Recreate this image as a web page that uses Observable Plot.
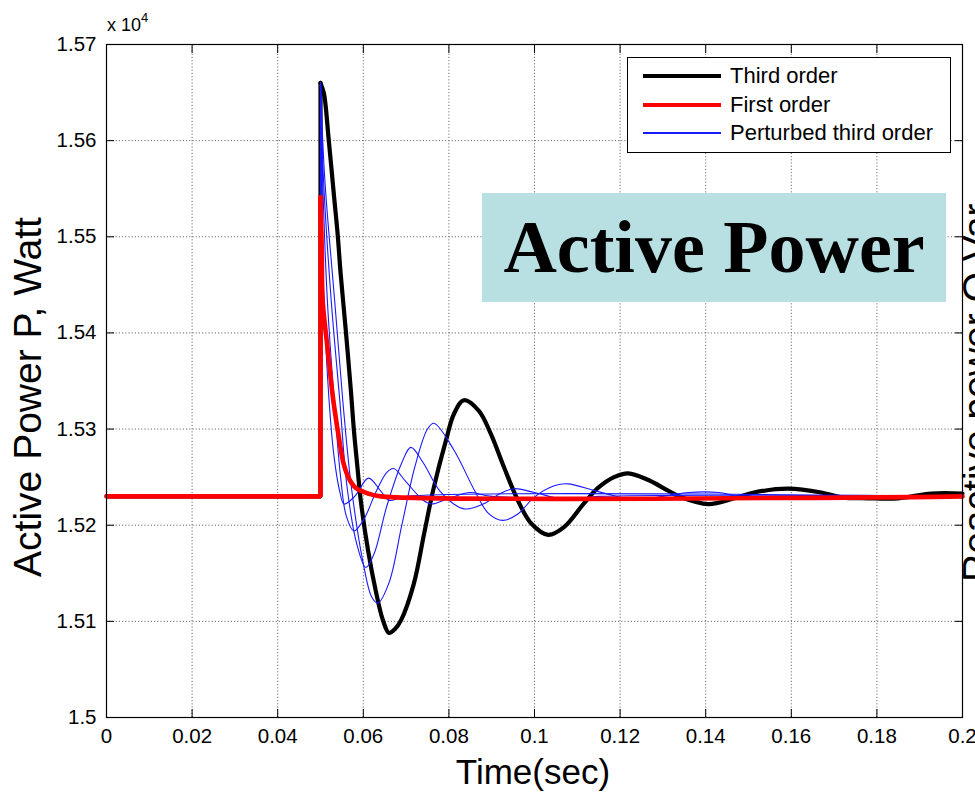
<!DOCTYPE html>
<html>
<head>
<meta charset="utf-8">
<script src="https://cdn.jsdelivr.net/npm/d3@7"></script>
<script src="https://cdn.jsdelivr.net/npm/@observablehq/plot@0.6"></script>
<style>
html, body { margin: 0; padding: 0; background: #fff; overflow: hidden; }
#wrap { position: relative; width: 975px; height: 792px; overflow: hidden; font-family: "Liberation Sans", Arial, sans-serif; color: #000; }
#wrap svg { position: absolute; left: 0; top: 0; }
#wrap svg text { font-size: 20.5px; }
.abs { position: absolute; white-space: nowrap; }
#exp { left: 107px; top: 12px; font-size: 18px; }
#exp sup { font-size: 13px; position: relative; top: -2px; }
#xlabel { left: 0; width: 1066px; top: 752px; text-align: center; font-size: 35px; line-height: 40px; }
#ylabel { font-size: 39px; line-height: 40px; left: 28px; top: 397px; transform: translate(-50%, -50%) rotate(-90deg); }
#rlabel { font-size: 39px; line-height: 40px; left: 957px; top: 582px; transform-origin: 0 0; transform: rotate(-90deg); }
#title { left: 482px; top: 193px; width: 464px; height: 109px; background: #b8dfe1; display: flex; align-items: center; justify-content: center; font-family: "Liberation Serif", "Times New Roman", serif; font-weight: bold; font-size: 74px; }
#legend { left: 627px; top: 57px; width: 322px; height: 94px; background: #fff; border: 1px solid #000; }
.lrow { position: absolute; left: 0; height: 26px; width: 100%; }
.lsw { position: absolute; left: 15px; width: 78px; }
.ltx { position: absolute; left: 102px; font-size: 22px; line-height: 26px; top: 0; }
</style>
</head>
<body>
<div id="wrap"></div>
<script>
// ---------- data ----------
const xTicks = [0, 0.02, 0.04, 0.06, 0.08, 0.1, 0.12, 0.14, 0.16, 0.18, 0.2];
const yTicks = [15000, 15100, 15200, 15300, 15400, 15500, 15600, 15700];
const seriesNames = ["Third order", "First order", "Perturbed third order"];
const titleText = "Active Power";
const xLabelText = "Time(sec)";
const yLabelText = "Active Power P, Watt";
const rightLabelText = "Reactive power Q,Var";

// Third order (black)
const thirdTime = [0, 0.05, 0.05, 0.0508, 0.0519, 0.0531, 0.0540, 0.0547, 0.0559, 0.0571, 0.0578, 0.0587, 0.0594, 0.0611, 0.0629, 0.0646, 0.0660, 0.0674, 0.0688, 0.0718, 0.0742, 0.0763, 0.0793, 0.0812, 0.0835, 0.0870, 0.0898, 0.0929, 0.0961, 0.0992, 0.1032, 0.1069, 0.1116, 0.1149, 0.1186, 0.1219, 0.1266, 0.1312, 0.1343, 0.1406, 0.1467, 0.1513, 0.1593, 0.1670, 0.1717, 0.1780, 0.1850, 0.1927, 0.2];
const thirdPower = [15230, 15230, 15660, 15649, 15602, 15545, 15503, 15462, 15403, 15340, 15299, 15257, 15226, 15174, 15132, 15101, 15088, 15092, 15101, 15139, 15191, 15236, 15288, 15316, 15330, 15319, 15295, 15260, 15226, 15202, 15190, 15198, 15223, 15239, 15250, 15254, 15247, 15236, 15229, 15222, 15228, 15234, 15238, 15234, 15229, 15228, 15228, 15233, 15233];

// First order (red)
const firstTime = [0, 0.05, 0.05, 0.0503, 0.0505, 0.0517, 0.0529, 0.0543, 0.0554, 0.0566, 0.0582, 0.0611, 0.0641, 0.2];
const firstPower = [15230, 15230, 15541, 15486, 15434, 15382, 15333, 15291, 15264, 15249, 15239, 15233, 15230, 15230];

// Perturbed third order (blue), four runs
const pert1Time = [0, 0.05, 0.05, 0.0503, 0.0508, 0.0520, 0.0532, 0.0545, 0.0555, 0.0580, 0.0612, 0.0640, 0.0660, 0.0700, 0.2];
const pert1Power = [15230, 15230, 15660, 15540, 15434, 15330, 15270, 15235, 15222, 15230, 15249, 15236, 15226, 15230, 15230];
const pert2Time = [0, 0.05, 0.05, 0.0505, 0.0516, 0.0532, 0.0547, 0.0560, 0.0578, 0.0600, 0.0630, 0.0655, 0.0671, 0.0700, 0.0740, 0.0760, 0.0800, 0.0850, 0.0900, 0.2];
const pert2Power = [15230, 15230, 15660, 15560, 15434, 15330, 15250, 15210, 15194, 15205, 15235, 15255, 15259, 15245, 15226, 15222, 15228, 15234, 15230, 15230];
const pert3Time = [0, 0.05, 0.05, 0.0507, 0.0525, 0.0545, 0.0562, 0.0585, 0.0606, 0.0625, 0.0655, 0.0690, 0.0711, 0.0740, 0.0780, 0.0835, 0.0880, 0.0920, 0.0952, 0.1000, 0.1070, 0.1150, 0.2];
const pert3Power = [15230, 15230, 15660, 15560, 15434, 15330, 15240, 15180, 15156, 15170, 15220, 15265, 15281, 15265, 15235, 15217, 15222, 15233, 15238, 15234, 15227, 15230, 15230];
const pert4Time = [0, 0.05, 0.05, 0.0510, 0.0533, 0.0552, 0.0572, 0.0600, 0.0620, 0.0634, 0.0660, 0.0690, 0.0720, 0.0750, 0.0765, 0.0812, 0.0860, 0.0893, 0.0926, 0.0962, 0.0999, 0.1046, 0.1078, 0.1140, 0.1200, 0.1226, 0.1300, 0.1360, 0.1430, 0.1480, 0.2];
const pert4Power = [15230, 15230, 15660, 15560, 15434, 15330, 15240, 15160, 15125, 15119, 15140, 15200, 15260, 15300, 15306, 15278, 15236, 15212, 15205, 15212, 15229, 15241, 15243, 15236, 15229, 15226, 15230, 15234, 15234, 15230, 15230];

// ---------- build ----------
// each run: index 0..2 is the flat pre-step part and the vertical jump; from index 2 on, the response
const rows = (name, ts, ps) => ts.map((t, i) => ({series: name, t, p: ps[i], i}));
const third = rows(seriesNames[0], thirdTime, thirdPower);
const first = rows(seriesNames[1], firstTime, firstPower);
const perturbed = [
  ...rows("p1", pert1Time, pert1Power),
  ...rows("p2", pert2Time, pert2Power),
  ...rows("p3", pert3Time, pert3Power),
  ...rows("p4", pert4Time, pert4Power)
];
const stepPart = d => d.i <= 2;
const respPart = d => d.i >= 2;

const fmtX = d => String(+d.toFixed(2));
const fmtY = d => String(+(d / 1e4).toFixed(2));
const gridStyle = {stroke: "#6e6e6e", strokeOpacity: 1, strokeWidth: 1, strokeDasharray: "1.2,2"};
const blue = "#1a1aff";

const chart = Plot.plot({
  width: 975,
  height: 792,
  marginLeft: 106,
  marginRight: 13,
  marginTop: 44,
  marginBottom: 75,
  x: {domain: [0, 0.2], axis: null},
  y: {domain: [15000, 15700], axis: null},
  style: {fontFamily: "Liberation Sans, Arial, sans-serif", fontSize: "20.5px", color: "#000", background: "transparent", overflow: "visible"},
  marks: [
    Plot.gridX(xTicks, gridStyle),
    Plot.gridY(yTicks, gridStyle),
    Plot.line(third.filter(stepPart), {x: "t", y: "p", stroke: "#000", strokeWidth: 4.2}),
    Plot.line(third.filter(respPart), {x: "t", y: "p", stroke: "#000", strokeWidth: 4.2, curve: "catmull-rom"}),
    Plot.line(perturbed.filter(stepPart), {x: "t", y: "p", z: "series", stroke: blue, strokeWidth: 1.1}),
    Plot.line(perturbed.filter(respPart), {x: "t", y: "p", z: "series", stroke: blue, strokeWidth: 1.1, curve: "catmull-rom"}),
    Plot.line(first.filter(stepPart), {x: "t", y: "p", stroke: "#ff0000", strokeWidth: 4.6, strokeLinejoin: "miter"}),
    Plot.line(first.filter(respPart), {x: "t", y: "p", stroke: "#ff0000", strokeWidth: 4.6, curve: "catmull-rom"}),
    Plot.frame({stroke: "#000", strokeWidth: 1.2}),
    Plot.axisX(xTicks, {anchor: "bottom", tickSize: -8, tickFormat: () => "", label: null}),
    Plot.axisX(xTicks, {anchor: "top", tickSize: -8, tickFormat: () => "", label: null}),
    Plot.axisY(yTicks, {anchor: "left", tickSize: -8, tickFormat: () => "", label: null}),
    Plot.axisY(yTicks, {anchor: "right", tickSize: -8, tickFormat: () => "", label: null}),
    Plot.axisX(xTicks, {anchor: "bottom", tickSize: 0, tickPadding: 11, tickFormat: fmtX, label: null}),
    Plot.axisY(yTicks, {anchor: "left", tickSize: 0, tickPadding: 10, tickFormat: fmtY, label: null})
  ]
});

const wrap = document.getElementById("wrap");
wrap.appendChild(chart);

function addDiv(id, text, cls = "abs") {
  const d = document.createElement("div");
  d.id = id; d.className = cls;
  if (text != null) d.textContent = text;
  wrap.appendChild(d);
  return d;
}

const exp = addDiv("exp", null);
exp.innerHTML = "x 10<sup>4</sup>";
addDiv("xlabel", xLabelText);
addDiv("ylabel", yLabelText);
addDiv("rlabel", rightLabelText);
addDiv("title", titleText);

const legend = addDiv("legend", null);
const legendStyles = [
  {color: "#000", width: 4.5},
  {color: "#ff0000", width: 4.5},
  {color: blue, width: 1.2}
];
const rowTops = [5, 34, 62];
seriesNames.forEach((name, i) => {
  const r = document.createElement("div");
  r.className = "lrow";
  r.style.top = rowTops[i] + "px";
  const sw = document.createElement("div");
  sw.className = "lsw";
  sw.style.height = legendStyles[i].width + "px";
  sw.style.top = (13 - legendStyles[i].width / 2) + "px";
  sw.style.background = legendStyles[i].color;
  const tx = document.createElement("div");
  tx.className = "ltx";
  tx.textContent = name;
  r.appendChild(sw); r.appendChild(tx);
  legend.appendChild(r);
});
</script>
</body>
</html>
